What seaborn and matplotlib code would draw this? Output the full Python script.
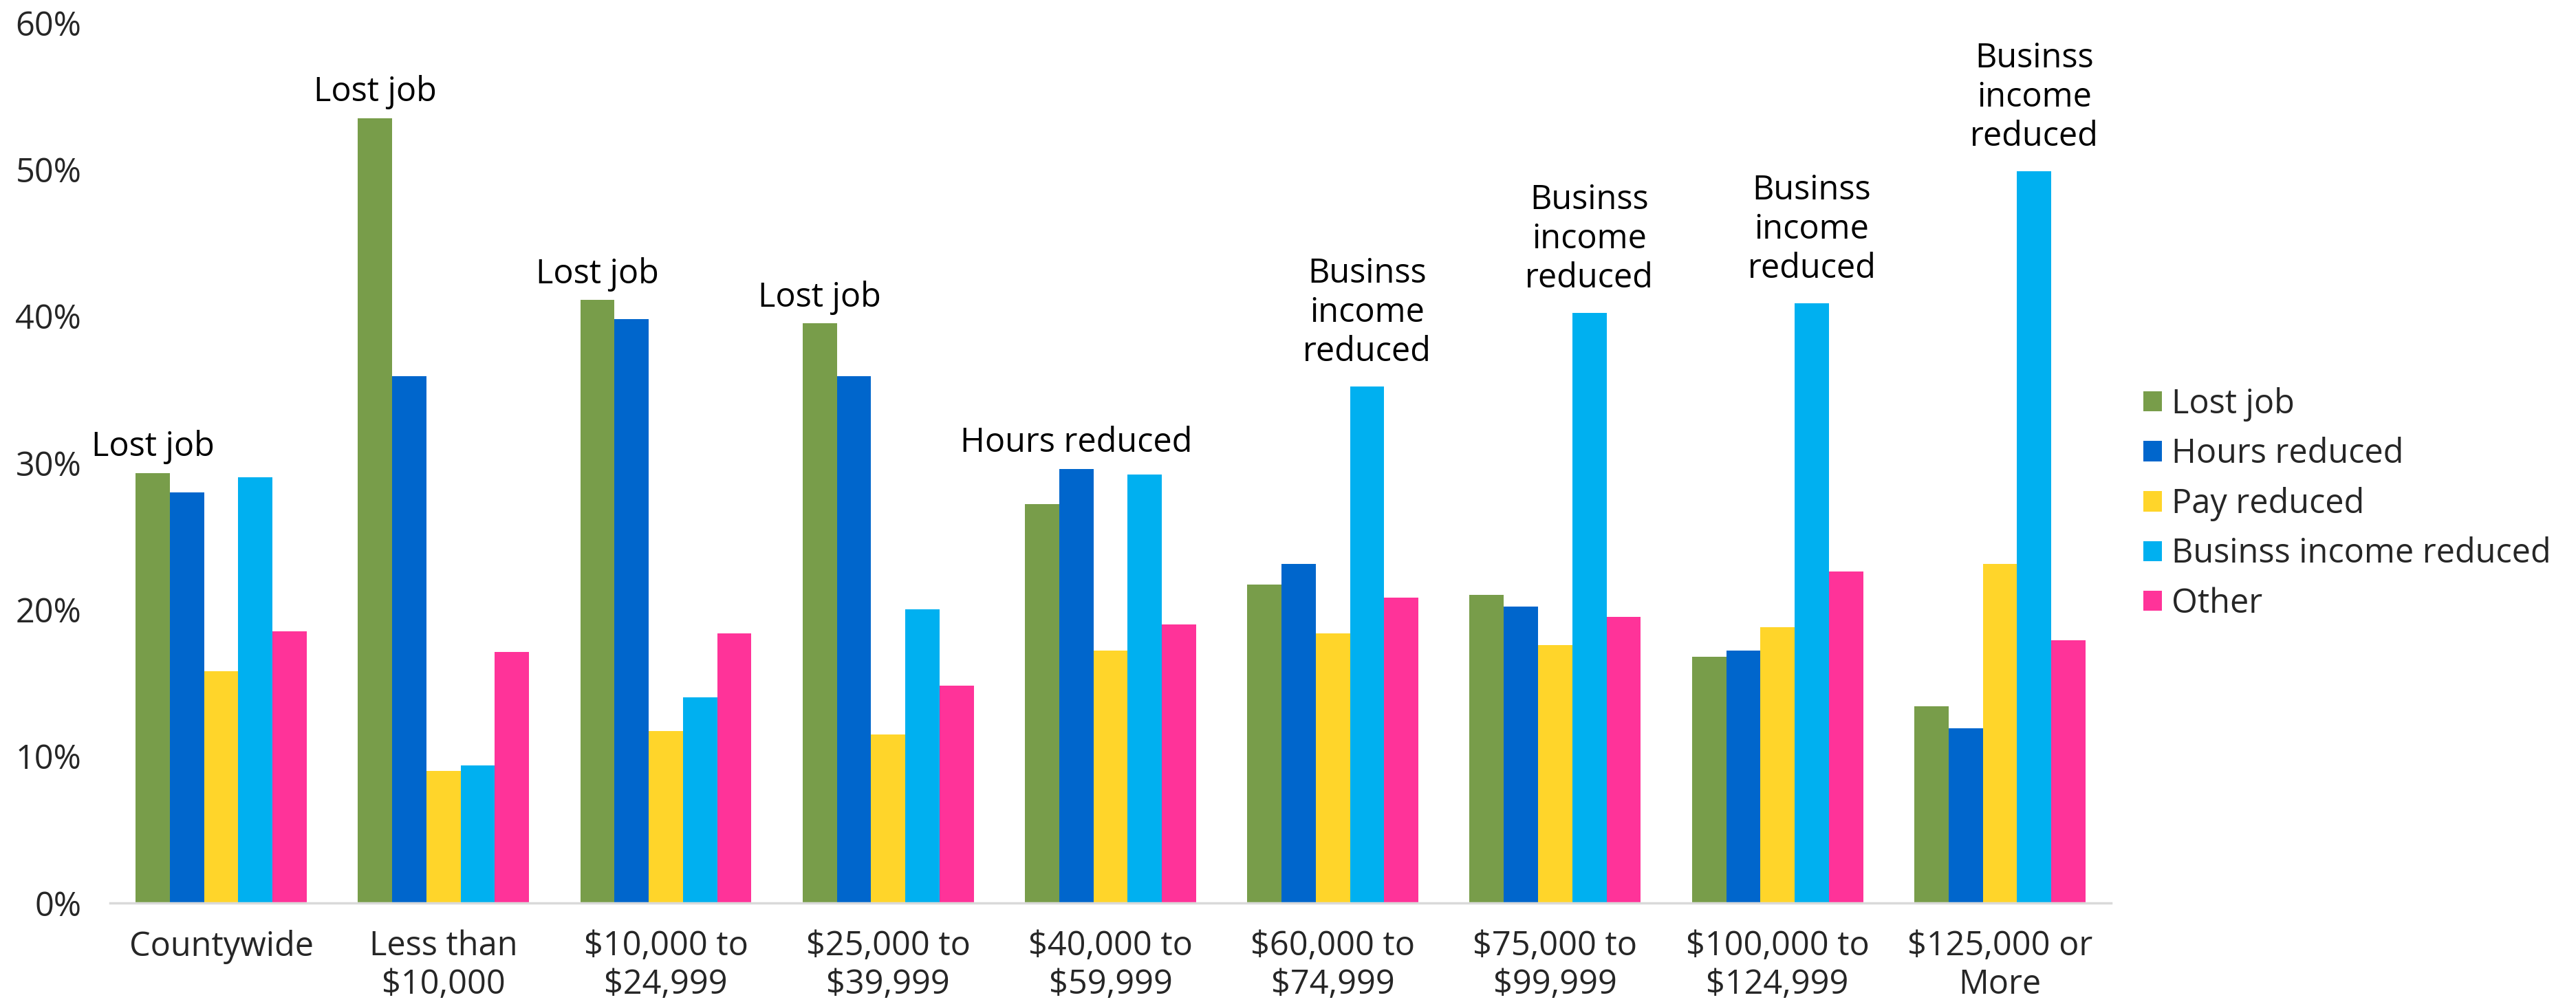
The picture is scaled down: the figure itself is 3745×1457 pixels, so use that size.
import matplotlib
matplotlib.use("Agg")
import matplotlib.pyplot as plt
import seaborn as sns
import pandas as pd
from matplotlib.ticker import FuncFormatter

categories = ["Countywide", "Less than\n$10,000", "$10,000 to\n$24,999", "$25,000 to\n$39,999",
              "$40,000 to\n$59,999", "$60,000 to\n$74,999", "$75,000 to\n$99,999",
              "$100,000 to\n$124,999", "$125,000 or\nMore"]
series = ["Lost job", "Hours reduced", "Pay reduced", "Businss income reduced", "Other"]
lost_job = [29.3, 53.5, 41.1, 39.5, 27.2, 21.7, 21.0, 16.8, 13.4]
hours_reduced = [28.0, 35.9, 39.8, 35.9, 29.6, 23.1, 20.2, 17.2, 11.9]
pay_reduced = [15.8, 9.0, 11.7, 11.5, 17.2, 18.4, 17.6, 18.8, 23.1]
business_income_reduced = [29.0, 9.4, 14.0, 20.0, 29.2, 35.2, 40.2, 40.9, 49.9]
other = [18.5, 17.1, 18.4, 14.8, 19.0, 20.8, 19.5, 22.6, 17.9]
top_labels = ["Lost job", "Lost job", "Lost job", "Lost job", "Hours reduced",
              "Businss\nincome\nreduced", "Businss\nincome\nreduced",
              "Businss\nincome\nreduced", "Businss\nincome\nreduced"]
colors = ["#789D4A", "#0066CC", "#FFD52A", "#00B0F0", "#FF3399"]

values = [lost_job, hours_reduced, pay_reduced, business_income_reduced, other]
rows = []
for s, vals in zip(series, values):
    for c, v in zip(categories, vals):
        rows.append({"category": c, "series": s, "value": v / 100.0})
df = pd.DataFrame(rows)

sns.set_theme(style="white")
plt.rcParams["font.family"] = ["Open Sans", "DejaVu Sans"]
FS = 35

fig = plt.figure(figsize=(37.45, 14.57), dpi=100)
ax = fig.add_axes([0.0427, 0.0988, 0.7768, 0.8785])

sns.barplot(data=df, x="category", y="value", hue="series",
            order=categories, hue_order=series, palette=colors, width=0.77,
            gap=0, linewidth=0, saturation=1, ax=ax, legend=True)

ax.set_xlim(-0.5, len(categories) - 0.5)
ax.set_ylim(0, 0.6)
ax.set_yticks([0, 0.1, 0.2, 0.3, 0.4, 0.5, 0.6])
ax.yaxis.set_major_formatter(FuncFormatter(lambda v, p: f"{v*100:.0f}%"))
ax.tick_params(axis="y", length=0, pad=30, labelsize=FS)
ax.tick_params(axis="x", length=0, pad=28, labelsize=FS)
for lab in ax.get_xticklabels():
    lab.set_linespacing(1.15)
ax.set_xlabel("")
ax.set_ylabel("")
for side in ["left", "right", "top"]:
    ax.spines[side].set_visible(False)
ax.spines["bottom"].set_color("#D9D9D9")
ax.spines["bottom"].set_linewidth(2.5)
ax.grid(False)

# annotate max bar of each category with its series name
for i, lab in enumerate(top_labels):
    best_j = max(range(len(series)), key=lambda j: values[j][i])
    patch = ax.containers[best_j].patches[i]
    xc = patch.get_x() + patch.get_width() / 2
    h = patch.get_height()
    nlines = lab.count("\n") + 1
    off = 9 if nlines == 1 else 18
    ax.annotate(lab, xy=(xc, h), xytext=(0, off), textcoords="offset points",
                ha="center", va="bottom", fontsize=FS, linespacing=1.2, color="black")

handles, labels = ax.get_legend_handles_labels()
ax.legend_.remove()
fig.legend(handles, labels, loc="center left", bbox_to_anchor=(0.832, 0.497),
           frameon=False, fontsize=FS, handlelength=0.55, handleheight=0.55,
           handletextpad=0.3, labelspacing=0.47, borderpad=0, borderaxespad=0)

fig.savefig("out.png", dpi=100, facecolor="white")
